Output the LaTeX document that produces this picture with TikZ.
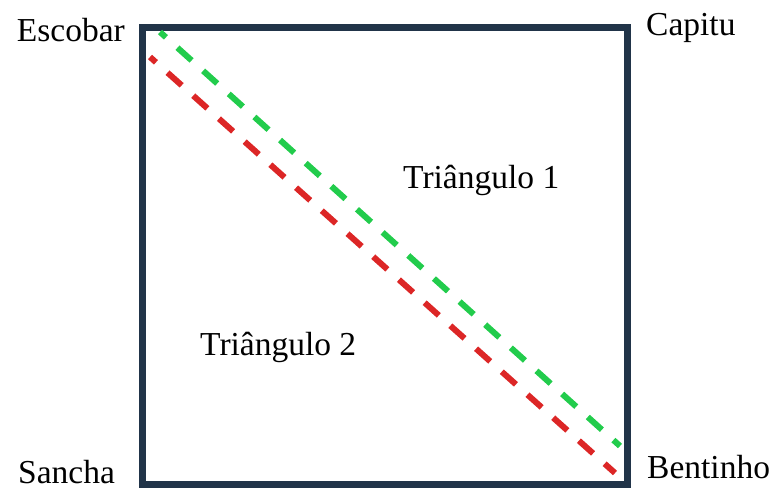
\documentclass[tikz,border=0pt]{standalone}
\usepackage{fontspec}
\setmainfont{Liberation Serif}
\usepackage{tikz}
\definecolor{mNavy}{HTML}{213449}
\definecolor{mGreen}{HTML}{22CC4C}
\definecolor{mRed}{HTML}{DC2626}

\begin{document}
\begin{tikzpicture}[x=1pt, y=-1pt,
      lbl/.style={inner sep=0pt, font=\fontsize{33.5}{40}\selectfont},
      side/.style={draw=mNavy, line width=7pt, line join=miter},
      diag/.style={line width=6pt, dash pattern=on 19pt off 15.5pt}]
    \useasboundingbox (0,0) rectangle (775,489);
    % square corners
    \coordinate (tl) at (142,28);
    \coordinate (tr) at (627,28);
    \coordinate (br) at (627,484);
    \coordinate (bl) at (142,484);
    \draw[side] (tl) -- (tr) -- (br) -- (bl) -- cycle;
    % the two diagonals
    \coordinate (g1) at (160,32);  \coordinate (g2) at (620,446);
    \coordinate (r1) at (150,57);  \coordinate (r2) at (615,473);
    \draw[diag, mGreen, dash phase=11pt] (g1) -- (g2);
    \draw[diag, mRed, dash phase=11pt] (r1) -- (r2);
    % names
    \node[lbl, anchor=base east] (escobar) at (125,42) {Escobar};
    \node[lbl, anchor=base west] (capitu) at (646,36) {Capitu};
    \node[lbl, anchor=base west] (sancha) at (18,483) {Sancha};
    \node[lbl, anchor=base west] (bentinho) at (647,478) {Bentinho};
    \node[lbl, anchor=base west] (tri1) at (403,188) {Triângulo 1};
    \node[lbl, anchor=base west] (tri2) at (200,355) {Triângulo 2};
  \end{tikzpicture}
\end{document}
